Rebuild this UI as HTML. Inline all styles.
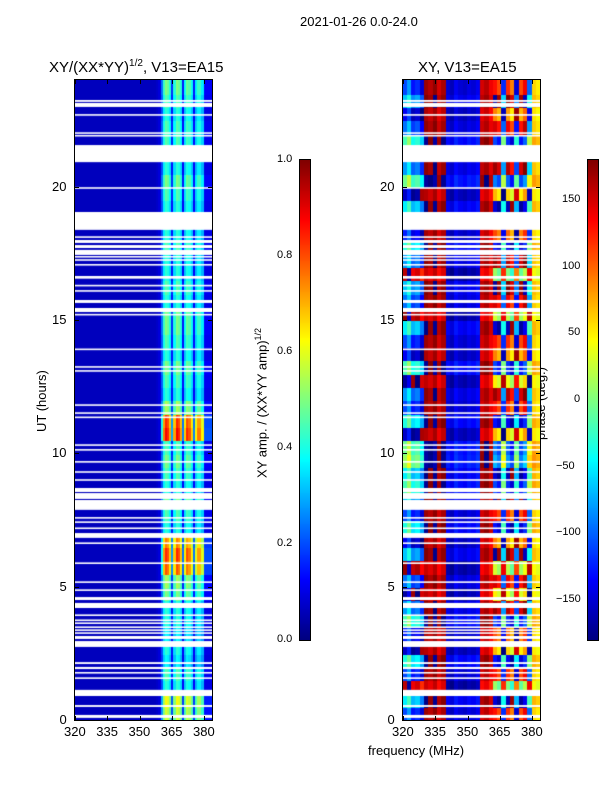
<!DOCTYPE html>
<html><head><meta charset="utf-8"><style>
body{margin:0;background:#fff;font-family:"Liberation Sans",sans-serif;}
#root{position:relative;width:600px;height:800px;overflow:hidden;background:#fff;}
.t{position:absolute;font-size:13px;color:#000;white-space:nowrap;}
.tk{position:absolute;font-size:13px;color:#000;white-space:nowrap;}
.sm{position:absolute;font-size:11px;color:#000;white-space:nowrap;}
canvas{position:absolute;}
.frame{position:absolute;border:1px solid #000;box-sizing:border-box;}
</style></head><body>
<div id="root">
<div class="t" style="left:300px;top:14px">2021-01-26 0.0-24.0</div>
<div class="t" style="left:49px;top:58px;font-size:15px">XY/(XX*YY)<sup style="font-size:10px">1/2</sup>, V13=EA15</div>
<div class="t" style="left:418px;top:59px;font-size:15px">XY, V13=EA15</div>
<div class="t" style="left:34px;top:432px;transform:rotate(-90deg);transform-origin:0 0">UT (hours)</div>
<div class="t" style="left:368px;top:743px">frequency (MHz)</div>
<div class="t" style="left:253px;top:478px;transform:rotate(-90deg);transform-origin:0 0">XY amp. / (XX*YY amp)<sup style="font-size:9px">1/2</sup></div>
<div class="t" style="left:533px;top:440px;transform:rotate(-90deg);transform-origin:0 0">phase (deg.)</div>
<canvas id="cAmp" width="137" height="640" style="left:75px;top:80px"></canvas>
<canvas id="cPh" width="137" height="640" style="left:403px;top:80px"></canvas>
<div class="frame" style="left:74px;top:79px;width:139px;height:642px"></div>
<div class="frame" style="left:402px;top:79px;width:139px;height:642px"></div>
<canvas id="cb1" width="10" height="480" style="left:300px;top:160px"></canvas>
<canvas id="cb2" width="10" height="480" style="left:588px;top:160px"></canvas>
<div class="frame" style="left:299px;top:159px;width:12px;height:482px"></div>
<div class="frame" style="left:587px;top:159px;width:12px;height:482px"></div>
</div>
<script>
const hourTicks=[0,5,10,15,20];
const freqTicks=[320,335,350,365,380];
const ampCbTicks=["0.0","0.2","0.4","0.6","0.8","1.0"];
const phCbTicks=[150,100,50,0,-50,-100,-150];
const ampColProfile=[0.06,0.06,0.06,0.06,0.06,0.06,0.06,0.06,0.06,0.06,0.06,0.06,0.06,0.06,0.06,0.06,0.06,0.06,0.06,0.06,0.06,0.06,0.06,0.06,0.06,0.06,0.06,0.06,0.06,0.06,0.06,0.06,0.06,0.06,0.06,0.06,0.06,0.06,0.07,0.09,
0.2,0.36,0.42,0.4,0.34,0.14,0.34,0.42,0.4,0.34,0.12,0.32,0.4,0.38,0.32,0.12,0.3,0.36,0.36,0.3,0.1,0.1,0.1,0.1];
const ampRowGain=[1.4,1.5,1.0,1.1,0.9,1.0,0.9,1.0,1.0,1.2,1.3,1.9,2.0,1.8,1.0,1.1,1.2,1.0,1.1,1.2,1.1,2.1,2.0,1.3,1.0,1.1,1.2,1.0,1.1,1.2,1.2,1.0,1.1,1.0,1.0,1.1,1.0,1.2,1.0,1.1,1.2,1.0,1.0,1.1,1.1,1.0,1.1,1.2];
const phColProfile=[-110,-80,-130,-120,-150,170,160,175,150,165,-150,-160,-140,-150,-155,-145,-150,-140,150,160,140,130,110,-120,120,90,-150,110,140,-100,60,50];
const phRowShift=[0,40,-60,0,50,-30,-10,60,20,-40,10,-50,30,-20,50,0,30,60,40,80,70,-30,50,0,20,-40,60,-20,0,40,-50,10,30,-60,20,50,-10,0,40,-30,70,20,-40,60,10,-20,30,0];

const F0=320,F1=383.7,H0=0,H1=24,W=137,HH=640;
function xs(f){return (f-F0)/(F1-F0)*W;}
function ys(h){return HH-(h-H0)/(H1-H0)*HH;}
function jet(v){v=Math.max(0,Math.min(1,v));
 const r=Math.max(0,Math.min(1,1.5-Math.abs(4*v-3))),g=Math.max(0,Math.min(1,1.5-Math.abs(4*v-2))),b=Math.max(0,Math.min(1,1.5-Math.abs(4*v-1)));
 return `rgb(${Math.round(r*255)},${Math.round(g*255)},${Math.round(b*255)})`;}
function wrap(p){while(p>180)p-=360;while(p<-180)p+=360;return p;}
const gaps=[[0.08,0.19],[0.49,0.56],[0.9,1.13],[1.54,1.6],[1.74,1.8],[1.91,1.99],[2.1,2.17],[2.74,2.96],[3.04,3.15],[3.23,3.29],[3.34,3.4],[3.45,3.51],[3.6,3.66],[3.71,3.77],[3.9,3.96],[4.2,4.39],[4.5,4.61],[4.84,4.9],[5.14,5.2],[5.85,5.91],[6.6,6.66],[6.83,7.01],[7.16,7.22],[7.39,7.45],[7.55,7.61],[7.88,8.25],[8.29,8.51],[8.55,8.7],[8.97,9.03],[9.27,9.33],[9.65,9.71],[10.1,10.16],[10.28,10.34],[11.32,11.38],[11.48,11.54],[11.78,11.84],[13.06,13.12],[13.21,13.27],[13.87,13.93],[15.17,15.23],[15.3,15.45],[15.64,15.75],[16.06,16.12],[16.26,16.32],[16.55,16.65],[17.04,17.1],[17.22,17.28],[17.34,17.4],[17.44,17.63],[17.7,17.81],[17.89,18.0],[18.08,18.14],[18.38,19.05],[19.92,19.98],[20.92,21.56],[21.88,21.94],[21.98,22.04],[22.66,22.72],[22.99,23.14],[23.18,23.25]];
function drawGaps(ctx){ctx.fillStyle="#fff";gaps.forEach(g=>{const y1=ys(g[1]),y0=ys(g[0]);ctx.fillRect(0,y1,W,Math.max(1.5,y0-y1));});}
(function(){const ctx=document.getElementById('cAmp').getContext('2d');
 const rh=24/ampRowGain.length,cw=1;
 ampRowGain.forEach((g,r)=>{ampColProfile.forEach((a,c)=>{
  const v=c<40?a:a*g;ctx.fillStyle=jet(v);
  const x0=xs(F0+c*cw),x1=xs(F0+(c+1)*cw),y1=ys((r+1)*rh),y0=ys(r*rh);
  ctx.fillRect(Math.floor(x0),Math.floor(y1),Math.ceil(x1-x0)+1,Math.ceil(y0-y1)+1);});});
 drawGaps(ctx);})();
(function(){const ctx=document.getElementById('cPh').getContext('2d');
 const rh=24/phRowShift.length,cw=2;
 phRowShift.forEach((s,r)=>{phColProfile.forEach((p,c)=>{
  const sh=c<5?s*1.5:(c>=21&&c<30?s*2:s*0.3);
  const v=(wrap(p+sh)+180)/360;ctx.fillStyle=jet(v);
  const x0=xs(F0+c*cw),x1=xs(F0+(c+1)*cw),y1=ys((r+1)*rh),y0=ys(r*rh);
  ctx.fillRect(Math.floor(x0),Math.floor(y1),Math.ceil(x1-x0)+1,Math.ceil(y0-y1)+1);});});
 drawGaps(ctx);})();
['cb1','cb2'].forEach(id=>{const ctx=document.getElementById(id).getContext('2d');
 for(let i=0;i<480;i++){ctx.fillStyle=jet(1-i/479);ctx.fillRect(0,i,10,1);}});
const root=document.getElementById('root');
function addDiv(cls,x,y,txt){const d=document.createElement('div');d.className=cls;d.style.left=x+'px';d.style.top=y+'px';if(txt!==undefined)d.textContent=txt;root.appendChild(d);return d;}
function tickLine(x,y,w,h){const d=document.createElement('div');d.style.cssText=`position:absolute;left:${x}px;top:${y}px;width:${w}px;height:${h}px;background:#000`;root.appendChild(d);return d;}
[75,403].forEach((ox,pi)=>{
 hourTicks.forEach(h=>{const y=80+ys(h);
  const t=tickLine(ox,y,4,1);
  
  
  const t2=tickLine(ox+W-4,y,4,1);
  
  
  const l=addDiv('tk',ox-8-(String(h).length*7.5),y-8,String(h));
  
  });
 freqTicks.forEach(f=>{const x=ox+xs(f);
  const t=tickLine(x,80+HH-4,1,4);
  
  
  const t2=tickLine(x,80,1,4);
  
  
  const l=addDiv('tk',x-11,724,String(f));
  
  });
});
ampCbTicks.forEach((s,i)=>{const y=640-i*96;
 const l=addDiv('sm',277,y-7,s);
 
 });
phCbTicks.forEach(v=>{const y=160+(180-v)/360*480;
 const l=addDiv('sm',v<0?556:(v>=100?562:v>0?568:574),y-7,v<0?'\u2212'+Math.abs(v):String(v));
 
 });
</script>
</body></html>
